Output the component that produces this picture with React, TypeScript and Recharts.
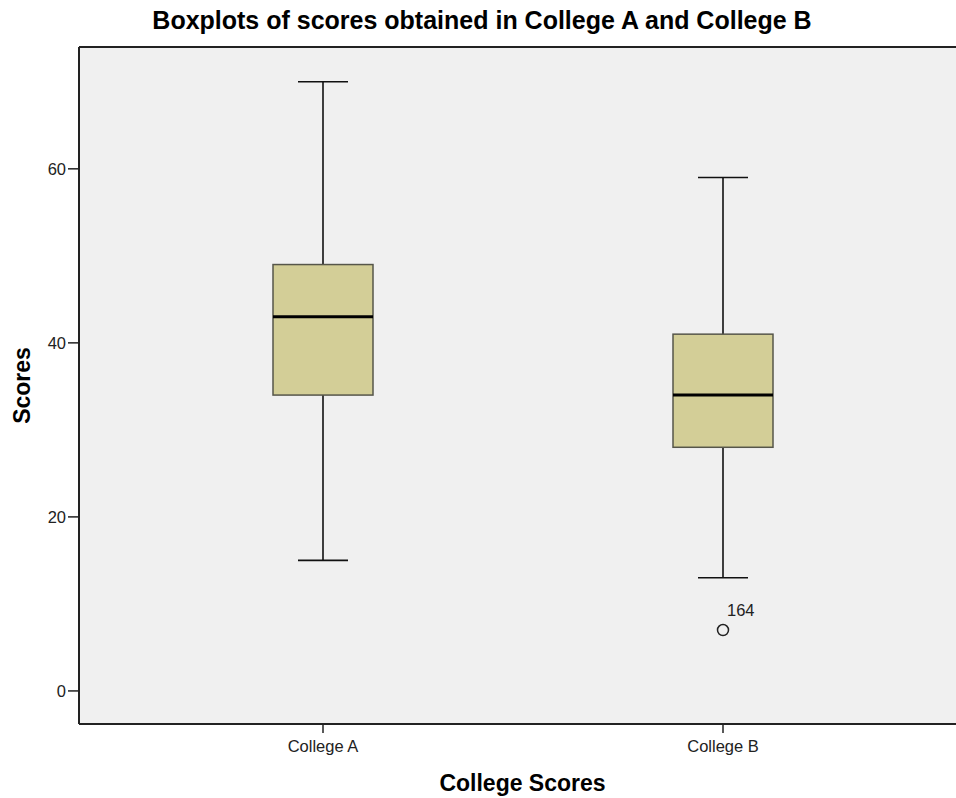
import React from 'react';
import {
  ComposedChart,
  Bar,
  Scatter,
  XAxis,
  YAxis,
  CartesianGrid,
  ReferenceLine,
} from 'recharts';

// values
const CATEGORIES = ['College A', 'College B'];
const X_POS = [1, 2];
const MINS = [15, 13];
const Q1S = [34, 28];
const MEDIANS = [43, 34];
const Q3S = [49, 41];
const MAXS = [70, 59];

const OUTLIER_X = [2];
const OUTLIER_Y = [7];
const OUTLIER_LABELS = ['164'];

const Y_TICKS = [0, 20, 40, 60];
const Y_DOMAIN: [number, number] = [-3.8, 74];
const X_DOMAIN: [number, number] = [0.39, 2.5825];

const BOX_WIDTH = 100;
const CAP_WIDTH = 50;
const FONT = '"Liberation Sans", Arial, sans-serif';
const INK = '#222';

const data = CATEGORIES.map((name, i) => ({
  x: X_POS[i],
  name,
  median: MEDIANS[i],
  box: [Q1S[i], Q3S[i]],
  whisker: [MINS[i], MAXS[i]],
}));

const outliers = OUTLIER_X.map((x, i) => ({ x, y: OUTLIER_Y[i], label: OUTLIER_LABELS[i] }));

const WhiskerShape = (props: any) => {
  const { x, y, width, height } = props;
  const cx = x + width / 2;
  return (
    <g stroke="#111" strokeWidth={1.6}>
      <line x1={cx} x2={cx} y1={y} y2={y + height} />
      <line x1={x} x2={x + width} y1={y} y2={y} />
      <line x1={x} x2={x + width} y1={y + height} y2={y + height} />
    </g>
  );
};

const BoxShape = (props: any) => {
  const { x, y, width, height } = props;
  return <rect x={x} y={y} width={width} height={height} fill="#D3CE97" stroke="#56564a" strokeWidth={1.5} />;
};

const MedianShape = (props: any) => {
  const { cx, cy } = props;
  return <line x1={cx - BOX_WIDTH / 2} x2={cx + BOX_WIDTH / 2} y1={cy} y2={cy} stroke="#000" strokeWidth={3} />;
};

const OutlierShape = (props: any) => {
  const { cx, cy, payload } = props;
  return (
    <g>
      <circle cx={cx} cy={cy} r={5.5} fill="none" stroke="#222" strokeWidth={1.5} />
      <text x={cx + 4} y={cy - 14} fontSize={16.5} fill={INK} fontFamily={FONT}>
        {payload.label}
      </text>
    </g>
  );
};

export default function App() {
  return (
    <div style={{ position: 'absolute', left: 0, top: 0, width: 956, height: 798, background: '#fff', fontFamily: FONT }}>
      <div
        style={{
          position: 'absolute',
          left: 0,
          top: 8,
          width: 964,
          textAlign: 'center',
          fontSize: 25,
          lineHeight: '24px',
          fontWeight: 'bold',
          color: '#000',
        }}
      >
        Boxplots of scores obtained in College A and College B
      </div>
      <ComposedChart
        width={956}
        height={798}
        data={data}
        margin={{ top: 47, right: 0, bottom: 0, left: 0 }}
        style={{ fontFamily: FONT }}
      >
        <CartesianGrid horizontal={false} vertical={false} fill="#F0F0F0" />
        <XAxis
          dataKey="x"
          type="number"
          domain={X_DOMAIN}
          allowDataOverflow
          ticks={X_POS}
          tickFormatter={(v: number) => CATEGORIES[X_POS.indexOf(v)] ?? ''}
          tick={{ fontSize: 16.5, fill: INK }}
          tickSize={9}
          tickMargin={7}
          tickLine={{ stroke: INK, strokeWidth: 1.5 }}
          axisLine={{ stroke: INK, strokeWidth: 2 }}
          height={74}
          label={{
            value: 'College Scores',
            position: 'insideBottom',
            offset: 7,
            dx: 5,
            style: { fontSize: 23, fontWeight: 'bold', fill: '#000' },
          }}
        />
        <XAxis xAxisId="w" dataKey="x" type="number" domain={X_DOMAIN} allowDataOverflow hide />
        <YAxis
          type="number"
          domain={Y_DOMAIN}
          allowDataOverflow
          ticks={Y_TICKS}
          width={79}
          tick={{ fontSize: 16.5, fill: INK }}
          tickSize={11}
          tickMargin={2}
          tickLine={{ stroke: INK, strokeWidth: 1.5 }}
          axisLine={{ stroke: INK, strokeWidth: 2 }}
          label={{
            value: 'Scores',
            angle: -90,
            position: 'insideLeft',
            offset: 22,
            textAnchor: 'middle',
            style: { fontSize: 23, fontWeight: 'bold', fill: '#000', textAnchor: 'middle' },
          }}
        />
        <ReferenceLine y={Y_DOMAIN[1]} stroke={INK} strokeWidth={2} ifOverflow="visible" />
        <Bar xAxisId="w" dataKey="whisker" barSize={CAP_WIDTH} shape={WhiskerShape} isAnimationActive={false} />
        <Bar dataKey="box" barSize={BOX_WIDTH} shape={BoxShape} isAnimationActive={false} />
        <Scatter dataKey="median" shape={MedianShape} isAnimationActive={false} />
        <Scatter data={outliers} dataKey="y" shape={OutlierShape} isAnimationActive={false} />
      </ComposedChart>
    </div>
  );
}
